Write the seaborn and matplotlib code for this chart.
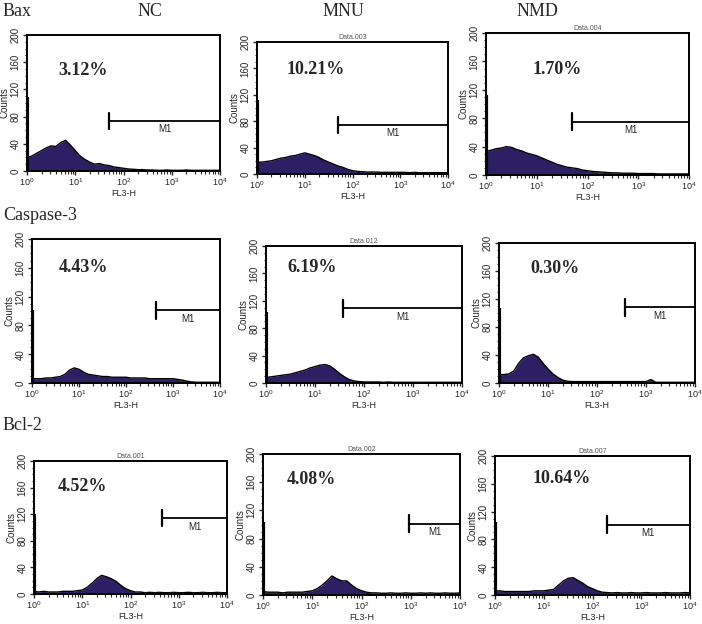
import numpy as np
import matplotlib
matplotlib.use("Agg")
import matplotlib.pyplot as plt
from matplotlib.ticker import MultipleLocator, LogLocator, NullFormatter
import seaborn as sns

# channel positions (log10 of FL3-H)
log_channels = np.linspace(0, 4, 41)

rows = ["Bax", "Caspase-3", "Bcl-2"]
cols = ["NC", "MNU", "NMD"]

bax_nc = [20, 22, 26, 30, 34, 37, 36, 42, 45, 38,
          30, 22, 17, 13, 10, 11, 9, 8, 6, 5,
          4, 3, 2.5, 2, 2, 1.5, 1.5, 1, 1, 1.5,
          1, 1, 1, 1.5, 1, 1, 1, 1, 1, 1, 1]
bax_mnu = [18, 18, 19, 20, 22, 24, 25, 27, 28, 30,
           32, 30, 28, 25, 21, 18, 15, 12, 10, 7,
           5, 4, 3.5, 3, 3, 3, 2.5, 2.5, 2.5, 2.5,
           2.5, 2.5, 2, 2.5, 2, 2, 2, 2, 2, 2, 2]
bax_nmd = [33, 35, 37, 38, 40, 39, 36, 34, 31, 29,
           27, 24, 21, 18, 15, 13, 11, 10, 9, 7,
           6, 5, 4.5, 4, 3.5, 3, 3, 2.5, 2.5, 2.5,
           2, 2, 2, 2, 1.5, 1.5, 1.5, 1.5, 1.5, 1.5, 1.5]
casp_nc = [6, 6, 6, 7, 7, 8, 9, 12, 18, 21,
           19, 15, 12, 11, 10, 9, 9, 8, 8, 8,
           8, 7, 7, 7, 7, 6, 6, 6, 6, 6,
           6, 5, 4, 2.5, 1.5, 1, 1, 1, 1, 1, 1]
casp_mnu = [8, 9, 10, 11, 12, 13, 15, 17, 19, 22,
            24, 26, 27, 25, 20, 14, 9, 5, 3, 2,
            1.5, 1.5, 1.5, 1.5, 1, 1.5, 1, 1, 1, 1,
            1, 1, 1, 1, 1, 1, 1, 1, 1, 1, 1]
casp_nmd = [12, 12, 13, 17, 28, 36, 39, 41, 37, 28,
            20, 13, 8, 4, 2.5, 2, 2, 2, 2, 2,
            2, 2, 2, 2, 2, 2, 2, 2, 2, 2,
            2, 5, 1, 1, 1, 1, 1, 1, 1, 1, 1]
bcl_nc = [4, 3, 4, 3, 3, 3, 4, 4, 4, 5,
          6, 10, 16, 23, 28, 26, 23, 19, 13, 8,
          5, 3, 3, 2, 2.5, 2, 2.5, 2, 2, 2.5,
          2, 2, 2.5, 2, 2, 2.5, 2, 2, 2.5, 2, 2]
bcl_mnu = [5, 4, 4, 4, 3, 4, 4, 4, 4, 5,
           6, 9, 14, 20, 27, 23, 20, 20, 14, 9,
           6, 4, 3, 3, 2.5, 2.5, 3, 2.5, 2.5, 3,
           2.5, 2.5, 3, 2.5, 3, 2.5, 2.5, 3, 2.5, 2.5, 3]
bcl_nmd = [6, 6, 5, 5, 5, 5, 5, 5, 6, 6,
           6, 7, 8, 14, 20, 24, 25, 21, 17, 12,
           9, 6, 4, 3.5, 3, 3.5, 3, 3, 3.5, 3,
           3, 3.5, 3, 3, 3, 3.5, 3, 3, 3, 3.5, 3]

counts = [bax_nc, bax_mnu, bax_nmd,
          casp_nc, casp_mnu, casp_nmd,
          bcl_nc, bcl_mnu, bcl_nmd]
first_channel = [109, 112, 113, 102, 104, 107, 121, 103, 105]
percent_labels = ["3.12%", "10.21%", "1.70%",
                  "4.43%", "6.19%", "0.30%",
                  "4.52%", "4.08%", "10.64%"]
m1_start = [51, 50, 50, 427, 38, 372, 457, 933, 195]
m1_level = [74, 74, 75, 101, 109, 108, 114, 101, 101]
data_titles = ["", "Data.003", "Data.004", "", "Data.012", "", "Data.001", "Data.002", "Data.007"]

sns.set_style("ticks")
plt.rcParams["font.family"] = ["Liberation Sans", "DejaVu Sans"]
plt.rcParams["mathtext.default"] = "regular"

W, H = 702, 624
fig = plt.figure(figsize=(W / 100, H / 100), dpi=100)

# axes boxes in pixels: left, top, right, bottom
boxes = [(27, 35, 220, 171), (257, 42, 448, 174), (486, 33, 689, 175),
         (32, 239, 220, 383), (266, 246, 462, 383), (499, 243, 695, 383),
         (34, 461, 227, 594), (263, 454, 460, 595), (495, 456, 690, 595)]
text_pos = [(0.16, 0.74), (0.157, 0.79), (0.23, 0.74),
            (0.14, 0.80), (0.11, 0.84), (0.16, 0.82),
            (0.125, 0.81), (0.12, 0.82), (0.19, 0.84)]

fill_color = "#2c1f63"

for i, (l, t, r, b) in enumerate(boxes):
    ax = fig.add_axes([l / W, 1 - b / H, (r - l) / W, (b - t) / H])
    x = 10 ** log_channels
    y = np.array(counts[i])
    ax.set_xscale("log")
    ax.fill_between(x, 0, y, color=fill_color, lw=0)
    sns.lineplot(x=x, y=y, ax=ax, color="black", lw=1.0)
    ax.plot([1, 1], [0, first_channel[i]], color="black", lw=3, solid_capstyle="butt")

    # M1 marker
    ax.plot([m1_start[i], 1e4], [m1_level[i], m1_level[i]], color="black", lw=1.3, clip_on=False)
    ax.plot([m1_start[i], m1_start[i]], [m1_level[i] - 12, m1_level[i] + 12], color="black", lw=1.6)
    xm = 10 ** ((np.log10(m1_start[i]) + 4) / 2)
    ax.text(xm, m1_level[i] - 5, "M1", fontsize=7, ha="center", va="top")

    ax.text(text_pos[i][0], text_pos[i][1], percent_labels[i], transform=ax.transAxes,
            fontsize=13, fontweight="bold", family=["Liberation Serif", "DejaVu Serif"],
            ha="left", va="center")
    if data_titles[i]:
        ax.text(0.5, 1.01, data_titles[i], transform=ax.transAxes, fontsize=5,
                ha="center", va="bottom", color="#555555")

    ax.set_xlim(1, 1e4)
    ax.set_ylim(0, 200)
    ax.yaxis.set_major_locator(MultipleLocator(40))
    ax.yaxis.set_minor_locator(MultipleLocator(10))
    ax.xaxis.set_major_locator(LogLocator(base=10, numticks=10))
    ax.xaxis.set_minor_locator(LogLocator(base=10, subs=np.arange(2, 10), numticks=10))
    ax.xaxis.set_minor_formatter(NullFormatter())
    ax.tick_params(axis="both", which="major", labelsize=7, length=3, width=1, pad=1.5)
    ax.tick_params(axis="x", which="major", labelsize=6.5, pad=1)
    ax.tick_params(axis="both", which="minor", length=1.8, width=0.8)
    ax.tick_params(axis="y", labelrotation=90)
    for lab in ax.get_yticklabels():
        lab.set_va("center")
    for s in ax.spines.values():
        s.set_linewidth(1.4)
        s.set_color("black")
    ax.set_ylabel("Counts", fontsize=7, labelpad=1)
    ax.set_xlabel("FL3-H", fontsize=6.5, labelpad=0.5)

serif = ["Liberation Serif", "DejaVu Serif"]
for name, xp in zip(cols, [150, 343, 537]):
    fig.text(xp / W, 1 - 11 / H, name, fontsize=13, family=serif, ha="center", va="center")
for name, yp in zip(rows, [11, 215, 425]):
    fig.text(3 / W, 1 - yp / H, name, fontsize=13, family=serif, ha="left", va="center")

fig.savefig("out.png", dpi=100, facecolor="white")
